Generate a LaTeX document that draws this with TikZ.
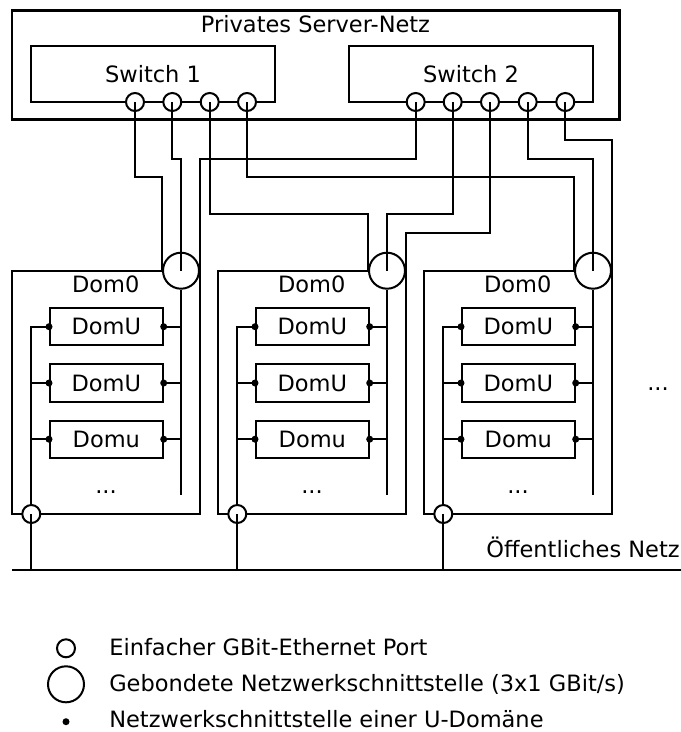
\documentclass[tikz,border=0pt]{standalone}
\usepackage{fontspec}
\setmainfont{DejaVu Sans}
\usetikzlibrary{calc}

\begin{document}
\begin{tikzpicture}[x=1pt, y=-1pt, line width=2pt,
  port/.style={circle, draw, fill=white, minimum size=18pt, inner sep=0pt},
  bond/.style={circle, draw, fill=white, minimum size=36pt, inner sep=0pt},
  frame/.style={draw, inner sep=0pt},
  vmbox/.style={draw, minimum width=112.7pt, minimum height=37.4pt, inner sep=0pt, font=\fontsize{22.5}{27}\selectfont},
  nic/.style={circle, fill=black, minimum size=7pt, inner sep=0pt},
  lbl/.style={font=\fontsize{22.5}{27}\selectfont, inner sep=0pt, anchor=base},
]
\useasboundingbox (0,0) rectangle (681,732);

% private server network with its two switches
\node[frame, line width=2.7pt, minimum width=607.3pt, minimum height=108.6pt] (net) at (315.7,65) {};
\node[lbl] (netlbl) at (315.5,32.3) {Privates Server-Netz};
\node[frame, minimum width=244pt, minimum height=56pt] (sw1) at (153,74) {};
\node[frame, minimum width=244pt, minimum height=56pt] (sw2) at (471,74) {};
\node[lbl] (sw1lbl) at (153,82.3) {Switch 1};
\node[lbl] (sw2lbl) at (471,82.3) {Switch 2};

\foreach \x [count=\k] in {135,172.3,209.7,247}
  \node[port] (s1p\k) at (\x,102) {};
\foreach \x [count=\k] in {415.7,452.7,490,527.7,565.3}
  \node[port] (s2p\k) at (\x,102) {};

% heights of the horizontal cable runs
\coordinate (rA) at (0,140);
\coordinate (rB) at (0,159);
\coordinate (rC) at (0,176.7);
\coordinate (rD) at (0,214.3);
\coordinate (rE) at (0,233.3);
\coordinate (pubL) at (12,570);
\coordinate (pubR) at (681,570);

% the three hosts
\foreach \i in {1,2,3} {
  \pgfmathsetmacro{\dx}{206*(\i-1)}
  \draw (12+\dx,270.7) rectangle (200+\dx,514);
  \node[bond] (c\i) at (181+\dx,270.7) {};
  \node[port] (p\i) at (31.3+\dx,514) {};
  \node[lbl] (dom\i) at (105.8+\dx,292.3) {Dom0};
  \node[vmbox] (d\i a) at (106.35+\dx,326.7) {DomU};
  \node[vmbox] (d\i b) at (106.35+\dx,383) {DomU};
  \node[vmbox] (d\i c) at (106.35+\dx,439.2) {Domu};
  \node[lbl] (more\i) at (106+\dx,493.3) {...};
  % internal buses
  \draw (d\i a.west) -| (p\i.north);
  \draw (d\i b.west) -- (d\i b.west -| p\i.center);
  \draw (d\i c.west) -- (d\i c.west -| p\i.center);
  \draw (c\i.south) -- ($(c\i.center)+(0,224.3)$);
  \foreach \j in {a,b,c} {
    \draw (d\i\j.east) -- (d\i\j.east -| c\i.center);
    \node[nic] at (d\i\j.west) {};
    \node[nic] at (d\i\j.east) {};
  }
  % uplink to the public network
  \draw (p\i.center) -- (p\i |- pubL);
}

% cabling from the switches to the bonded interfaces
\draw (s1p1.center) -- (s1p1 |- rC) -| (c1.west);
\draw (s1p2.center) -- (s1p2 |- rB) -| (c1.center);
\draw (s2p1.center) -- (s2p1 |- rB) -| (c1.east);
\draw (s1p3.center) -- (s1p3 |- rD) -| (c2.west);
\draw (s2p2.center) -- (s2p2 |- rD) -| (c2.center);
\draw (s2p3.center) -- (s2p3 |- rE) -| (c2.east);
\draw (s1p4.center) -- (s1p4 |- rC) -| (c3.west);
\draw (s2p4.center) -- (s2p4 |- rB) -| (c3.center);
\draw (s2p5.center) -- (s2p5 |- rA) -| (c3.east);

% public network
\draw (pubL) -- (pubR);
\node[lbl, anchor=base east] (publbl) at (680.7,557.3) {Öffentliches Netz};
\node[lbl] (moreR) at (658,390.5) {...};

% legend
\node[port] (lg1) at (66,648.3) {};
\node[bond] (lg2) at (66,684.3) {};
\node[nic] (lg3) at (66,721.7) {};
\node[lbl, anchor=base west] (lt1) at (108.3,655) {Einfacher GBit-Ethernet Port};
\node[lbl, anchor=base west] (lt2) at (108.3,691.7) {Gebondete Netzwerkschnittstelle (3x1 GBit/s)};
\node[lbl, anchor=base west] (lt3) at (108.3,727.8) {Netzwerkschnittstelle einer U-Domäne};
\end{tikzpicture}
\end{document}
